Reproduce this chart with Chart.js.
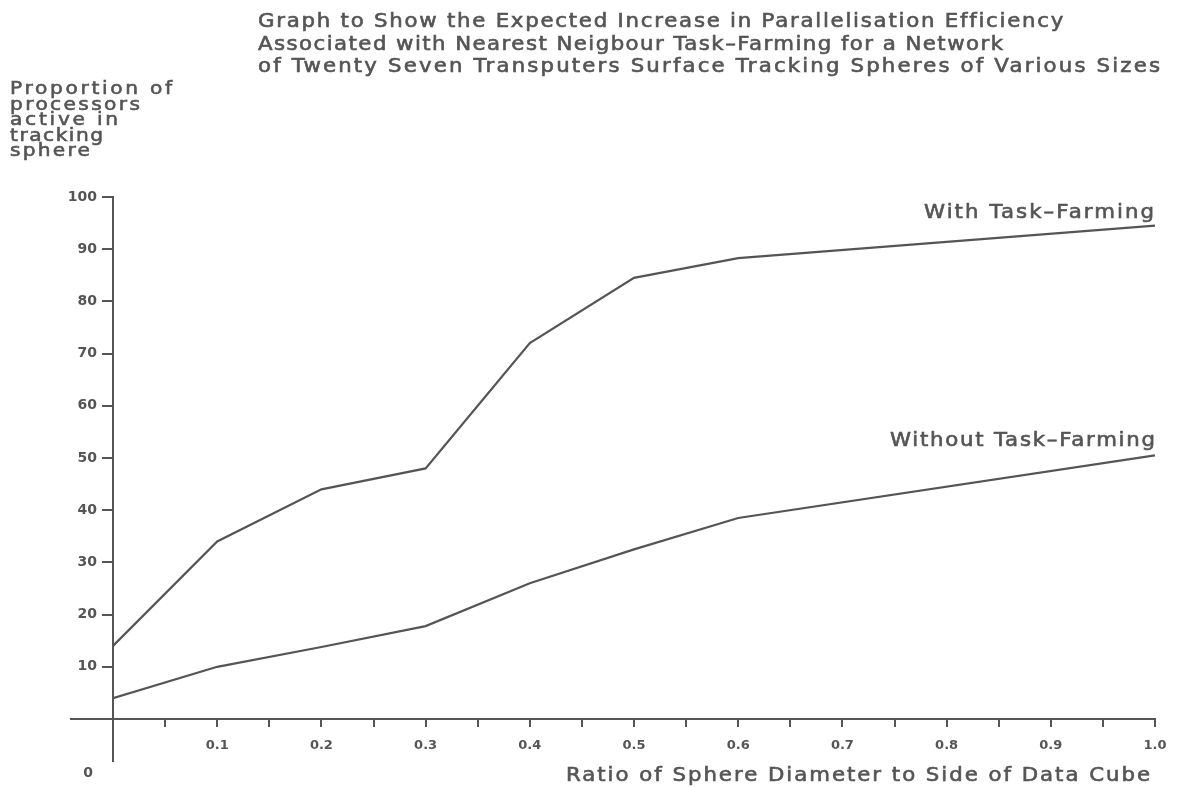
<!DOCTYPE html>
<html>
<head>
<meta charset="utf-8">
<script src="https://cdn.jsdelivr.net/npm/chart.js@4"></script>
<style>
  html, body { margin: 0; padding: 0; background: #fff; }
  #wrap { position: relative; width: 1180px; height: 787px; }
</style>
</head>
<body>
<div id="wrap"><canvas id="efficiency-chart" width="1180" height="787"></canvas></div>
<script>
// Data
const ratios = [0, 0.1, 0.2, 0.3, 0.4, 0.5, 0.6, 1.0];
const withFarming = [14, 34, 44, 48, 72, 84.5, 88.3, 94.5];
const withoutFarming = [4, 10, 13.8, 17.8, 26, 32.5, 38.5, 50.5];
const titleLines = [
  'Graph to Show the Expected Increase in Parallelisation Efficiency',
  'Associated with Nearest Neigbour Task\u2013Farming for a Network',
  'of Twenty Seven Transputers Surface Tracking Spheres of Various Sizes'
];
const yTitleLines = ['Proportion of', 'processors', 'active in', 'tracking', 'sphere'];
const xTitle = 'Ratio of Sphere Diameter to Side of Data Cube';
const seriesNames = ['With Task\u2013Farming', 'Without Task\u2013Farming'];

const ink = '#555555';
const font = '"DejaVu Sans", sans-serif';

function toPoints(ys) {
  return ratios.map((x, i) => ({ x: x, y: ys[i] }));
}

// draw text left-aligned at x, stretched to the given width (plotter font is wide)
function wideText(ctx, text, x, y, width) {
  ctx.save();
  ctx.textAlign = 'left';
  const natural = ctx.measureText(text).width;
  const sx = Math.min(1.12, width / natural);
  ctx.translate(x, y);
  ctx.scale(sx, 1);
  const rest = width / sx - natural;
  if ('letterSpacing' in ctx && text.length > 1) {
    ctx.letterSpacing = (rest / (text.length - 1)) + 'px';
  }
  ctx.fillText(text, 0, 0);
  ctx.lineWidth = 0.6;
  ctx.strokeText(text, 0, 0);
  ctx.restore();
}

// texts and axis extensions
const decorations = {
  id: 'decorations',
  afterDraw(chart) {
    const ctx = chart.ctx;
    const xs = chart.scales.x, ys = chart.scales.y;
    const x0 = xs.getPixelForValue(0), y0 = ys.getPixelForValue(0);
    ctx.save();
    ctx.strokeStyle = ink;
    ctx.lineWidth = 2;
    ctx.beginPath();
    ctx.moveTo(70, y0); ctx.lineTo(x0, y0);
    ctx.moveTo(x0, y0); ctx.lineTo(x0, 762);
    ctx.stroke();

    ctx.fillStyle = ink;
    ctx.textBaseline = 'alphabetic';
    ctx.font = '19px ' + font;
    const titleWidths = [805, 745, 902];
    titleLines.forEach((t, i) => wideText(ctx, t, 258, 27 + i * 22.5, titleWidths[i]));

    ctx.font = '18px ' + font;
    const yWidths = [162, 130, 108, 93, 80];
    yTitleLines.forEach((t, i) => wideText(ctx, t, 10, 94 + i * 15.5, yWidths[i]));

    ctx.font = '19px ' + font;
    wideText(ctx, xTitle, 566, 781, 584);
    wideText(ctx, seriesNames[0], 924, 218, 230);
    wideText(ctx, seriesNames[1], 890, 446, 265);

    ctx.textAlign = 'center';
    ctx.font = 'bold 14px ' + font;
    ctx.fillText('0', 88, 777);
    ctx.restore();
  }
};

const ctx = document.getElementById('efficiency-chart').getContext('2d');
new Chart(ctx, {
  type: 'line',
  data: {
    datasets: [
      { label: seriesNames[0], data: toPoints(withFarming) },
      { label: seriesNames[1], data: toPoints(withoutFarming) }
    ]
  },
  options: {
    responsive: false,
    animation: false,
    events: [],
    layout: { padding: { left: 0, right: 25, top: 197, bottom: 0 } },
    elements: {
      line: { borderColor: ink, borderWidth: 2.2, tension: 0, fill: false },
      point: { radius: 0 }
    },
    plugins: { legend: { display: false }, tooltip: { enabled: false } },
    scales: {
      x: {
        type: 'linear',
        min: 0,
        max: 1,
        afterFit(scale) { scale.height = 68; },
        border: { display: true, color: ink, width: 2 },
        grid: { drawOnChartArea: false, color: ink, lineWidth: 2, tickLength: 8 },
        ticks: {
          stepSize: 0.05,
          autoSkip: false,
          maxRotation: 0,
          padding: 11,
          color: ink,
          font: { family: font, size: 13, weight: 'bold' },
          callback(v) {
            const k = Math.round(v * 100);
            if (k === 0 || k % 10 !== 0) return '';
            return (k / 100).toFixed(1);
          }
        }
      },
      y: {
        min: 0,
        max: 100,
        afterFit(scale) { scale.width = 113; },
        border: { display: true, color: ink, width: 2 },
        grid: { drawOnChartArea: false, color: ink, lineWidth: 2, tickLength: 11 },
        ticks: {
          stepSize: 10,
          padding: 5,
          color: ink,
          font: { family: font, size: 14, weight: 'bold' },
          callback(v) { return v === 0 ? '' : String(v); }
        }
      }
    }
  },
  plugins: [decorations]
});
</script>
</body>
</html>
